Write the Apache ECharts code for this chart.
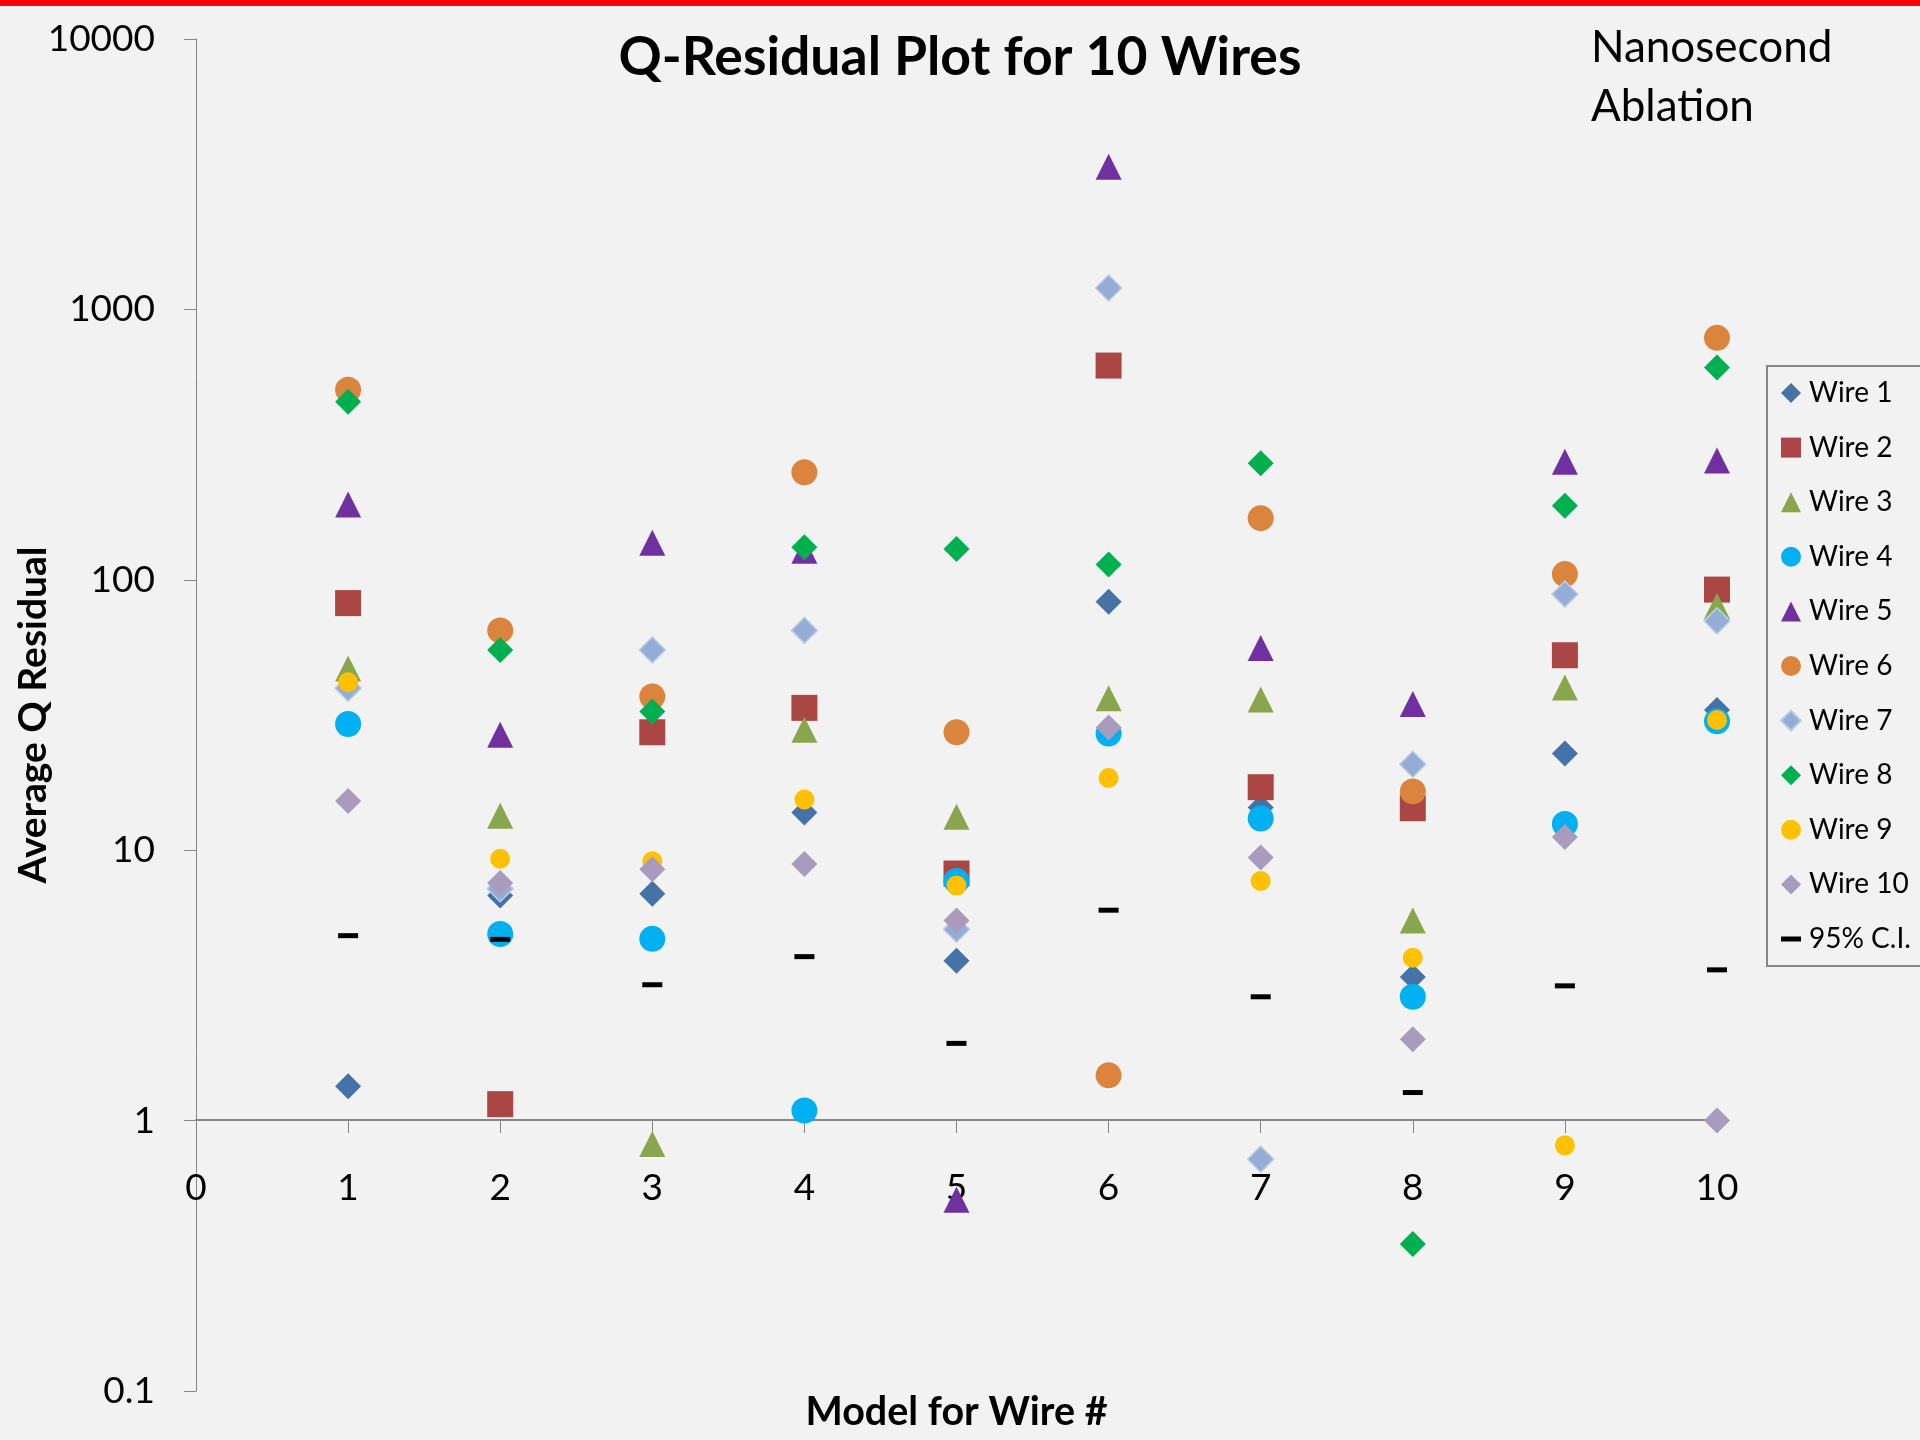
<!DOCTYPE html>
<html>
<head>
<meta charset="utf-8">
<script src="https://cdn.jsdelivr.net/npm/echarts@6/dist/echarts.min.js"></script>
<style>
  html, body { margin: 0; padding: 0; background: #f2f2f2; }
  #chart { width: 1920px; height: 1440px; }
</style>
</head>
<body>
<div id="chart"></div>
<script>
// x：模型编号 1..10
const models = [1, 2, 3, 4, 5, 6, 7, 8, 9, 10];

// 每根线的平均 Q 残差（按模型 1..10）
const wire1 = [1.34, 6.8, 6.9, 13.8, 3.9, 83, 14.4, 3.4, 22.8, 33];
const wire2 = [82, 1.15, 27.3, 33.6, 8.2, 620, 17.1, 14.3, 52.6, 92];
const wire3 = [47, 13.4, 0.82, 27.9, 13.3, 36.5, 36.1, 5.5, 40, 80];
const wire4 = [29.3, 4.9, 4.7, 1.09, 7.7, 27, 13.1, 2.87, 12.5, 30];
const wire5 = [190, 26.7, 137, 128, 0.51, 3370, 56, 34.7, 273, 276];
const wire6 = [505, 65, 37, 250, 27.3, 1.47, 169, 16.5, 105, 785];
const wire7 = [39.7, 7.2, 55, 65, 5.1, 1200, 0.72, 20.8, 88.5, 70.5];
const wire8 = [455, 55, 32.6, 132, 130, 114, 270, 0.35, 188, 610];
const wire9 = [41.8, 9.3, 9.1, 15.4, 7.4, 18.5, 7.7, 4.0, 0.81, 30.3];
const wire10 = [15.2, 7.56, 8.5, 8.9, 5.5, 28.4, 9.4, 2.0, 11.2, 1.0];
const ci95 = [4.83, 4.68, 3.18, 4.04, 1.93, 6.0, 2.87, 1.27, 3.15, 3.61];

const wires = [
  { name: 'Wire 1', data: wire1, symbol: 'diamond', color: '#4572a7' },
  { name: 'Wire 2', data: wire2, symbol: 'rect', color: '#aa4643' },
  { name: 'Wire 3', data: wire3, symbol: 'triangle', color: '#89a54e' },
  { name: 'Wire 4', data: wire4, symbol: 'circle', color: '#00b0f0' },
  { name: 'Wire 5', data: wire5, symbol: 'triangle', color: '#7030a0' },
  { name: 'Wire 6', data: wire6, symbol: 'circle', color: '#db843d' },
  { name: 'Wire 7', data: wire7, symbol: 'diamond', color: '#95acd4', border: '#b9cde5' },
  { name: 'Wire 8', data: wire8, symbol: 'diamond', color: '#00b050' },
  { name: 'Wire 9', data: wire9, symbol: 'circle', color: '#ffc000', size: 20 },
  { name: 'Wire 10', data: wire10, symbol: 'diamond', color: '#a99bbd' },
];

const FONT = 'Lato';

const series = wires.map((w) => ({
  type: 'scatter',
  name: w.name,
  data: models.map((m, i) => [m, w.data[i]]),
  symbol: w.symbol,
  symbolSize: w.size || 26,
  itemStyle: {
    color: w.color,
    opacity: 1,
    borderColor: w.border || w.color,
    borderWidth: w.border ? 1.5 : 0,
  },
}));

// 95% 置信线：黑色短横
series.push({
  type: 'scatter',
  name: '95% C.I.',
  data: models.map((m, i) => [m, ci95[i]]),
  symbol: 'rect',
  symbolSize: [20, 5],
  symbolKeepAspect: true,
  itemStyle: { color: '#000', opacity: 1 },
});

const legendData = wires.map((w) => w.name);
legendData.push({ name: '95% C.I.', icon: 'path://M0,0h20v5h-20z' });

const chart = echarts.init(document.getElementById('chart'), null, { renderer: 'canvas' });

chart.setOption({
  backgroundColor: '#f2f2f2',
  animation: false,
  textStyle: { fontFamily: FONT },
  title: [
    {
      text: 'Q-Residual Plot for 10 Wires',
      left: 'center',
      top: 31,
      padding: 0,
      textStyle: { fontFamily: FONT, fontSize: 53.5, fontWeight: 'bold', color: '#000' },
    },
    {
      text: 'Nanosecond\nAblation',
      left: 1591,
      top: 18,
      padding: 0,
      textStyle: { fontFamily: FONT, fontSize: 44, fontWeight: 'normal', color: '#000', lineHeight: 59 },
    },
  ],
  legend: {
    orient: 'vertical',
    left: 1767,
    top: 366,
    padding: [12, 80, 12, 13],
    itemWidth: 20,
    itemHeight: 20,
    itemGap: 24.6,
    borderColor: '#868686',
    borderWidth: 2,
    backgroundColor: '#f2f2f2',
    data: legendData,
    textStyle: { fontFamily: FONT, fontSize: 28, color: '#000', lineHeight: 30, padding: [0, 0, 0, 3] },
  },
  grid: { left: 196, right: 203, top: 39, bottom: 49, containLabel: false, outerBoundsMode: 'none' },
  xAxis: {
    type: 'value',
    min: 0,
    max: 10,
    interval: 1,
    offset: -271,
    name: 'Model for Wire #',
    nameLocation: 'middle',
    nameGap: 272,
    nameMoveOverlap: false,
    nameTextStyle: { fontFamily: FONT, fontSize: 39.5, fontWeight: 'bold', color: '#000' },
    axisLine: { onZero: false, lineStyle: { color: '#868686', width: 2 } },
    axisTick: { show: true, length: 13, lineStyle: { color: '#868686', width: 1 } },
    axisLabel: { margin: 50, fontFamily: FONT, fontSize: 37, color: '#000' },
    splitLine: { show: false },
  },
  yAxis: {
    type: 'log',
    logBase: 10,
    min: 0.1,
    max: 10000,
    name: 'Average Q Residual',
    nameLocation: 'middle',
    nameRotate: 90,
    nameGap: 143,
    nameMoveOverlap: false,
    nameTextStyle: { fontFamily: FONT, fontSize: 39, fontWeight: 'bold', color: '#000' },
    axisLine: { show: true, lineStyle: { color: '#868686', width: 1 } },
    axisTick: { show: true, length: 12, lineStyle: { color: '#868686', width: 1 } },
    axisLabel: {
      margin: 41,
      fontFamily: FONT,
      fontSize: 37,
      color: '#000',
      formatter: (v) => String(+Number(v).toPrecision(6)),
    },
    splitLine: { show: false },
  },
  graphic: [
    { type: 'rect', left: 0, top: 0, z: 100, shape: { width: 1920, height: 6 }, style: { fill: '#ff0000' } },
  ],
  series,
});
</script>
</body>
</html>
